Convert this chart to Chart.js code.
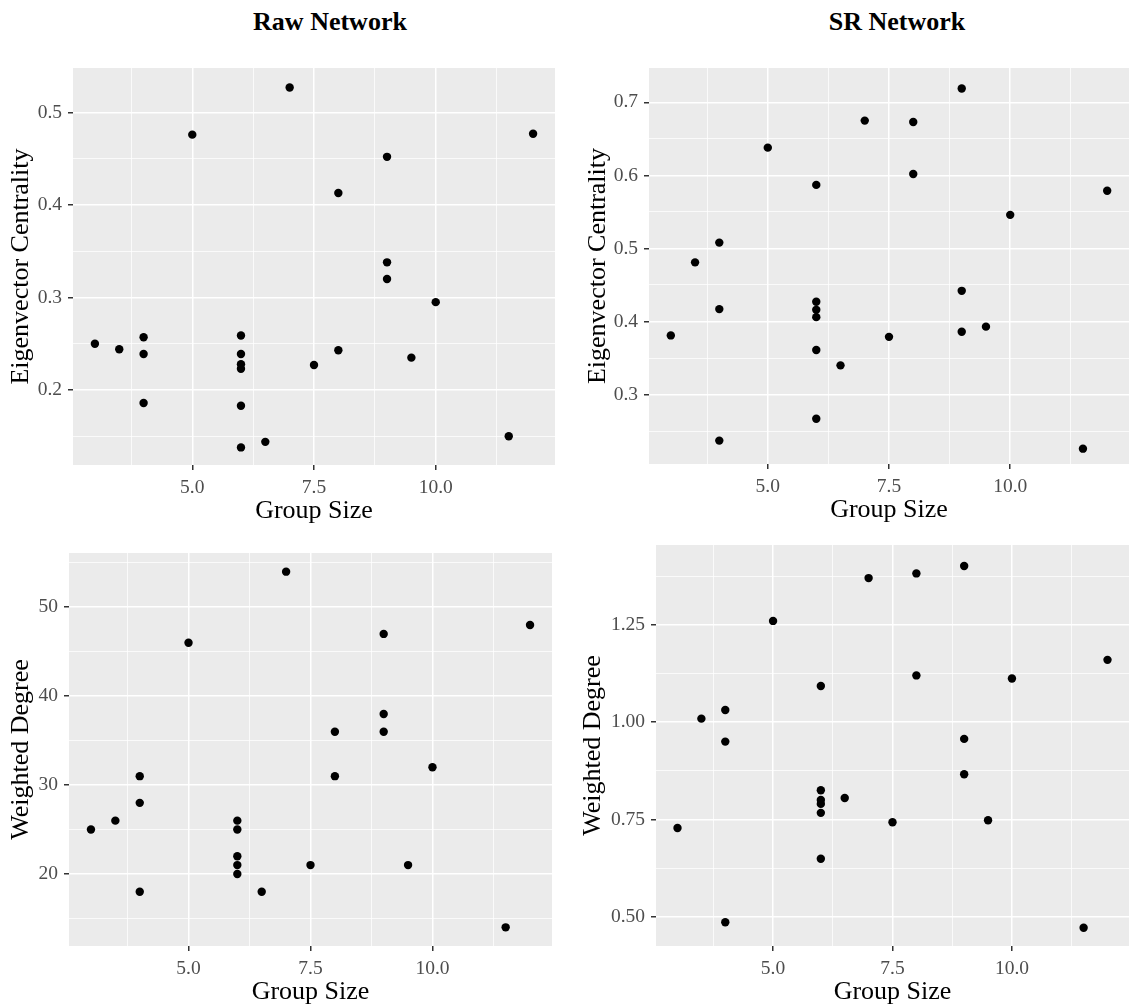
<!DOCTYPE html>
<html>
<head>
<meta charset="utf-8">
<script src="https://cdn.jsdelivr.net/npm/chart.js@4.4.1/dist/chart.umd.min.js"></script>
<style>
  body { margin: 0; width: 1129px; height: 1005px; position: relative; overflow: hidden; background: #fff; }
  canvas { position: absolute; }
  .ttl { position: absolute; top: 7px; width: 300px; text-align: center; font: bold 26px 'Liberation Serif', serif; line-height: 30px; color: #000; }
</style>
</head>
<body>
<div class="ttl" style="left:180px">Raw Network</div>
<div class="ttl" style="left:747px">SR Network</div>
<canvas id="rawEigen" style="left:6px;top:68px"></canvas>
<canvas id="srEigen" style="left:583px;top:68px"></canvas>
<canvas id="rawDeg" style="left:6px;top:553px"></canvas>
<canvas id="srDeg" style="left:578px;top:545px"></canvas>
<script>
const groupSize = [3, 3.5, 4, 4, 4, 5, 6, 6, 6, 6, 6, 6, 6.5, 7, 7.5, 8, 8, 9, 9, 9, 9.5, 10, 11.5, 12]
const rawEigen = [0.250, 0.244, 0.257, 0.239, 0.186, 0.476, 0.259, 0.239, 0.228, 0.223, 0.183, 0.138, 0.144, 0.527, 0.227, 0.413, 0.243, 0.452, 0.338, 0.320, 0.235, 0.295, 0.150, 0.477]
const srEigen = [0.381, 0.481, 0.508, 0.417, 0.237, 0.638, 0.587, 0.427, 0.416, 0.406, 0.361, 0.267, 0.340, 0.675, 0.379, 0.673, 0.602, 0.719, 0.442, 0.386, 0.393, 0.546, 0.226, 0.579]
const srDegree = [0.728, 1.009, 1.031, 0.950, 0.486, 1.260, 1.093, 0.825, 0.800, 0.790, 0.767, 0.649, 0.805, 1.370, 0.743, 1.382, 1.120, 1.401, 0.957, 0.866, 0.748, 1.112, 0.472, 1.160]
// one point at group size 6 is hidden under another in the raw degree panel
const groupSizeRawDeg = [3, 3.5, 4, 4, 4, 5, 6, 6, 6, 6, 6, 6.5, 7, 7.5, 8, 8, 9, 9, 9, 9.5, 10, 11.5, 12]
const rawDegree = [25, 26, 31, 28, 18, 46, 26, 25, 22, 21, 20, 18, 54, 21, 36, 31, 47, 38, 36, 21, 32, 14, 48]

const xMajor = [5, 7.5, 10]
const xMinor = [3.75, 6.25, 8.75, 11.25]
const rawEigenMajor = [0.2, 0.3, 0.4, 0.5]
const rawEigenMinor = [0.15, 0.25, 0.35, 0.45]
const srEigenMajor = [0.3, 0.4, 0.5, 0.6, 0.7]
const srEigenMinor = [0.25, 0.35, 0.45, 0.55, 0.65]
const rawDegreeMajor = [20, 30, 40, 50]
const rawDegreeMinor = [15, 25, 35, 45, 55]
const srDegreeMajor = [0.5, 0.75, 1.0, 1.25]
const srDegreeMinor = [0.625, 0.875, 1.125, 1.375]

let zip = (xs, ys) => xs.map((x, i) => { return {'x': x, 'y': ys[i]} })
let isMajor = (list, v) => list.some(m => Math.abs(m - v) < 1e-9)

const serif = 'Liberation Serif'

const panelBg = {
  id: 'panelBg',
  beforeDraw(chart) {
    const a = chart.chartArea
    chart.ctx.save()
    chart.ctx.fillStyle = '#EBEBEB'
    chart.ctx.fillRect(a.left, a.top, a.right - a.left, a.bottom - a.top)
    chart.ctx.restore()
  }
}

// fixed axis boxes so the panel lands where it should
let fixBox = (size, key) => (s) => {
  s[key] = size
  s.paddingTop = 0
  s.paddingBottom = 0
  s.paddingLeft = 0
  s.paddingRight = 0
}

function axis(major, minor, range, digits, title, fit) {
  return {
    type: 'linear',
    min: range[0],
    max: range[1],
    afterBuildTicks: (s) => { s.ticks = major.concat(minor).sort((a, b) => a - b).map(v => ({value: v})) },
    afterFit: fit,
    border: { display: false },
    grid: {
      color: '#FFFFFF',
      lineWidth: (c) => c.tick && isMajor(major, c.tick.value) ? 1.5 : 0.75,
      tickColor: (c) => c.tick && isMajor(major, c.tick.value) ? '#333333' : 'rgba(0,0,0,0)',
      tickWidth: 1.5,
      tickLength: 5
    },
    ticks: {
      autoSkip: false,
      maxRotation: 0,
      padding: 6,
      color: '#4D4D4D',
      font: { family: serif, size: 19.5 },
      callback: (v) => isMajor(major, v) ? v.toFixed(digits) : ''
    },
    title: {
      display: true,
      text: title,
      color: '#000000',
      padding: 0,
      font: { family: serif, size: 26, lineHeight: 1.2 }
    }
  }
}

function makePanel(id, xs, ys, yMajor, yMinor, yRange, yDigits, yTitle, yW, w, h) {
  const cv = document.getElementById(id)
  cv.width = w
  cv.height = h
  return new Chart(cv, {
    type: 'scatter',
    data: {
      datasets: [{
        data: zip(xs, ys),
        backgroundColor: '#000000',
        borderWidth: 0,
        pointRadius: 4.2,
        pointHoverRadius: 4.2
      }]
    },
    options: {
      responsive: false,
      animation: false,
      devicePixelRatio: 1,
      layout: { padding: 0, autoPadding: false },
      plugins: { legend: { display: false }, tooltip: { enabled: false } },
      scales: {
        x: Object.assign(axis(xMajor, xMinor, [2.55, 12.45], 1, 'Group Size', fixBox(62, 'height')), { position: 'bottom' }),
        y: Object.assign(axis(yMajor, yMinor, yRange, yDigits, yTitle, fixBox(yW, 'width')), { position: 'left' })
      }
    },
    plugins: [panelBg]
  })
}

makePanel('rawEigen', groupSize, rawEigen, rawEigenMajor, rawEigenMinor, [0.119, 0.548], 1, 'Eigenvector Centrality', 67, 549, 459)
makePanel('srEigen', groupSize, srEigen, srEigenMajor, srEigenMinor, [0.205, 0.747], 1, 'Eigenvector Centrality', 66, 546, 458)
makePanel('rawDeg', groupSizeRawDeg, rawDegree, rawDegreeMajor, rawDegreeMinor, [11.9, 56.1], 0, 'Weighted Degree', 63, 546, 455)
makePanel('srDeg', groupSize, srDegree, srDegreeMajor, srDegreeMinor, [0.425, 1.455], 2, 'Weighted Degree', 78, 551, 463)
</script>
</body>
</html>
